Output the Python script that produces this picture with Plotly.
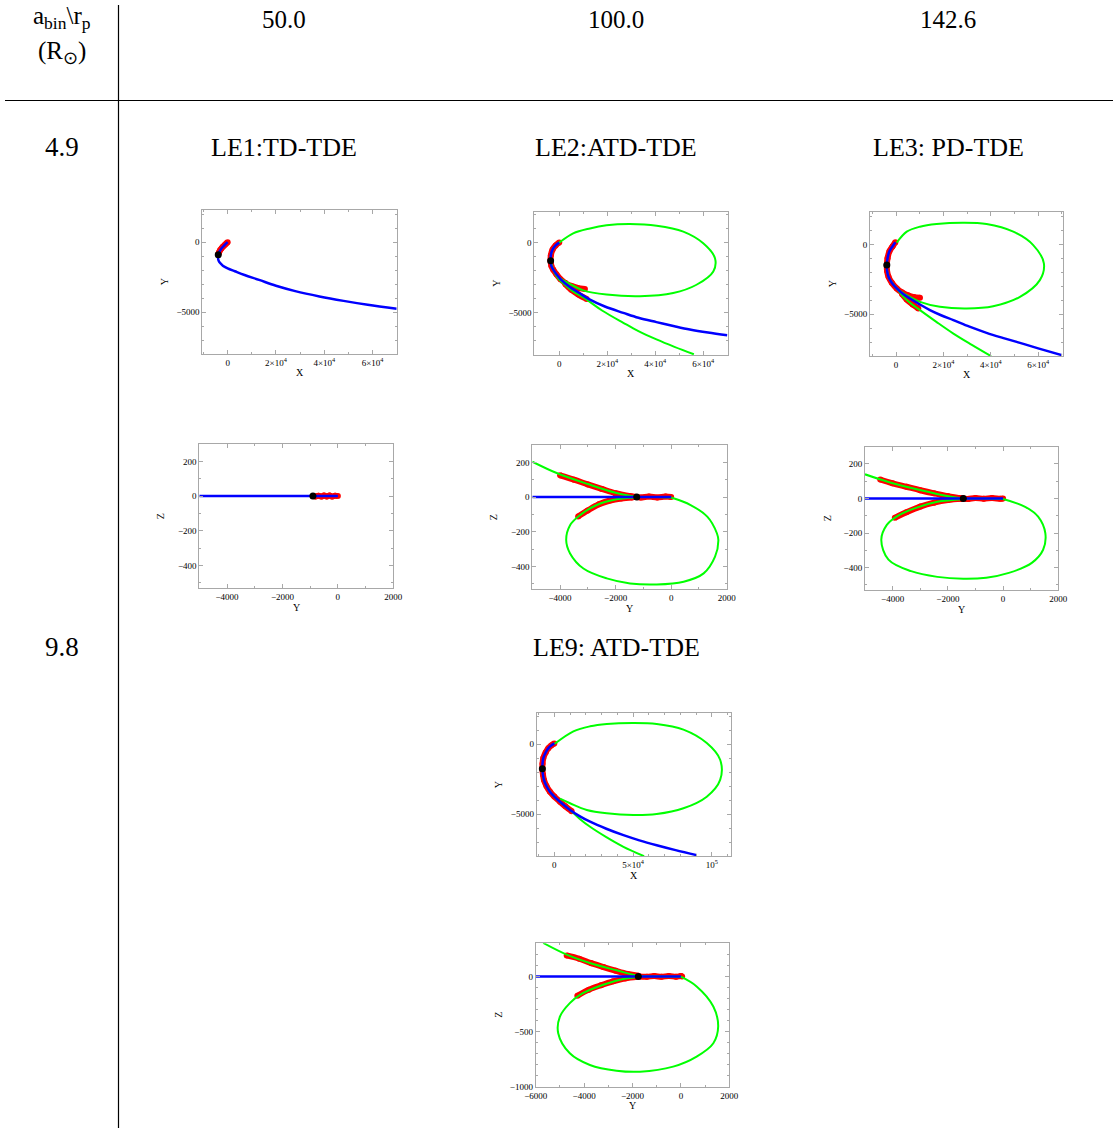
import plotly.graph_objects as go

# ---------------- data ----------------
# LE1 (a_bin=4.9, r_p=50.0)
le1_xy_blue_x = [0, -1200, -2500, -3400, -3900, -4000, -3800, -3200, -2000, 0, 3000, 7000, 13000, 20000, 28000, 38000, 48000, 58000, 70000]
le1_xy_blue_y = [0, -200, -430, -680, -900, -1100, -1300, -1480, -1680, -1870, -2080, -2350, -2700, -3120, -3500, -3880, -4200, -4480, -4760]
le1_xy_red_x = [0, -600, -1200, -1900, -2500, -3100, -3500, -3800, -3900]
le1_xy_red_y = [0, -90, -200, -310, -430, -570, -700, -820, -900]
le1_xy_dot = (-3900, -900)
le1_yz_blue_y = [-5000, 0]
le1_yz_blue_z = [0, 0]
le1_yz_red_y = [-900, -800, -700, -600, -500, -400, -300, -200, -100, 0]
le1_yz_red_z = [0, -2, 2, -3, 3, -2, 3, -3, 2, 0]
le1_yz_dot = (-900, 0)

# LE2 (a_bin=4.9, r_p=100.0)
le2_xy_blue_x = [0, -1500, -2800, -3500, -3600, -3300, -2500, -1200, 500, 4400, 8000, 12800, 19000, 26700, 33000, 40500, 48000, 54400, 62000, 70000]
le2_xy_blue_y = [0, -200, -500, -900, -1300, -1650, -1930, -2250, -2600, -3160, -3550, -4060, -4550, -5000, -5350, -5660, -5950, -6180, -6400, -6600]
le2_xy_red_main_x = [0, -1500, -2800, -3500, -3600, -3300, -2500, -1200, 500, 2500]
le2_xy_red_main_y = [0, -200, -500, -900, -1300, -1650, -1930, -2250, -2600, -2880]
le2_xy_red_up_x = [2500, 5000, 7500, 10700]
le2_xy_red_up_y = [-2880, -3080, -3220, -3300]
le2_xy_red_lo_x = [2500, 5000, 8000, 11400]
le2_xy_red_lo_y = [-2950, -3350, -3700, -4010]
le2_xy_ell_x = [0, 5800, 12800, 19700, 29400, 40600, 51700, 60000, 64900, 64200, 57200, 47500, 33600, 19700, 10000, 4000, 0, -2500, -3600, -3000, -1500, 0]
le2_xy_ell_y = [0, 660, 1010, 1230, 1320, 1200, 780, -50, -1110, -2050, -3000, -3590, -3820, -3700, -3400, -2900, -2500, -1930, -1300, -600, -200, 0]
le2_xy_esc_x = [-3600, -2500, -500, 3000, 5800, 11400, 18000, 26700, 33000, 40500, 48000, 56100]
le2_xy_esc_y = [-1300, -1930, -2550, -3100, -3470, -4060, -4850, -5710, -6300, -6890, -7420, -7950]
le2_xy_dot = (-3600, -1300)
le2_yz_blue_y = [-5000, 0]
le2_yz_blue_z = [0, 0]
le2_yz_esc_y = [-5000, -4100, -3000, -2000, -1250, -500, 0]
le2_yz_esc_z = [204, 137, 75, 25, 2, 0, -3]
le2_yz_ell_y = [0, 700, 1300, 1650, 1700, 1580, 1170, 450, -520, -1480, -2320, -3160, -3640, -3780, -3640, -3280, -2680, -1960, -1240]
le2_yz_ell_z = [-3, -46, -113, -210, -250, -344, -440, -488, -504, -498, -469, -412, -325, -248, -162, -104, -46, -13, -2]
le2_yz_red_main_y = [-2000, -1700, -1400, -1100, -800, -500, -200, 0]
le2_yz_red_main_z = [0, -2, 2, -3, 3, -2, 3, 0]
le2_yz_red_up_y = [-4000, -3500, -3000, -2500, -2000, -1500, -1250]
le2_yz_red_up_z = [125, 100, 73, 47, 22, 6, 0]
le2_yz_red_lo_y = [-3350, -3000, -2600, -2200, -1800, -1400]
le2_yz_red_lo_z = [-112, -77, -42, -20, -8, -2]
le2_yz_dot = (-1240, 0)

# LE3 (a_bin=4.9, r_p=142.6)
le3_xy_blue_x = [-300, -1500, -2800, -3600, -3900, -3800, -3200, -1800, 300, 3000, 5900, 10000, 14300, 19000, 24200, 31000, 38200, 45000, 52300, 60000, 70000]
le3_xy_blue_y = [150, -150, -500, -1000, -1480, -1900, -2320, -2750, -3160, -3550, -3880, -4300, -4710, -5080, -5430, -5900, -6340, -6700, -7060, -7450, -7940]
le3_xy_red_main_x = [-300, -1500, -2800, -3600, -3900, -3800, -3200, -1800, 300, 2500]
le3_xy_red_main_y = [150, -150, -500, -1000, -1480, -1900, -2320, -2750, -3160, -3450]
le3_xy_red_up_x = [2500, 5000, 7500, 10100]
le3_xy_red_up_y = [-3450, -3650, -3780, -3830]
le3_xy_red_lo_x = [2500, 4500, 7000, 9400]
le3_xy_red_lo_y = [-3550, -3950, -4300, -4590]
le3_xy_ell_x = [300, 4500, 10100, 17100, 28400, 38200, 49500, 57900, 62400, 60700, 52300, 41000, 29800, 18500, 10100, 4500, 300]
le3_xy_ell_y = [120, 910, 1270, 1460, 1555, 1460, 910, -50, -1360, -2560, -3760, -4430, -4590, -4470, -4120, -3640, -3160]
le3_xy_esc_x = [-3900, -3200, 300, 3100, 6000, 10100, 17000, 24200, 32000, 40100]
le3_xy_esc_y = [-1480, -2320, -3160, -3760, -4200, -4710, -5550, -6390, -7200, -8010]
le3_xy_dot = (-3900, -1480)
le3_yz_blue_y = [-5000, 0]
le3_yz_blue_z = [0, 0]
le3_yz_esc_y = [-5000, -4150, -2970, -2030, -1440, -700, 0]
le3_yz_esc_z = [140, 96, 48, 15, 0, 0, -3]
le3_yz_ell_y = [0, 800, 1270, 1530, 1450, 1040, 210, -610, -1440, -2380, -3330, -4150, -4410, -4210, -3860, -3210, -2380, -1440]
le3_yz_ell_z = [-3, -48, -105, -201, -297, -373, -431, -459, -465, -454, -421, -354, -239, -153, -105, -57, -19, -4]
le3_yz_red_main_y = [-2200, -1900, -1600, -1300, -1000, -700, -400, -100, 0]
le3_yz_red_main_z = [0, -2, 2, -3, 3, -2, 3, -2, 0]
le3_yz_red_up_y = [-4450, -4000, -3500, -3000, -2500, -2000, -1440]
le3_yz_red_up_z = [110, 88, 68, 48, 30, 14, 0]
le3_yz_red_lo_y = [-3920, -3500, -3000, -2500, -2000, -1500]
le3_yz_red_lo_z = [-112, -80, -47, -24, -9, -2]
le3_yz_dot = (-1440, 0)

# LE9 (a_bin=9.8, r_p=100.0)
le9_xy_blue_x = [0, -2000, -3800, -5500, -7000, -7500, -7600, -7200, -6600, -5000, -2800, 0, 3600, 10000, 16000, 22700, 33000, 43900, 54000, 65000, 77000, 90500]
le9_xy_blue_y = [50, -100, -290, -600, -1000, -1400, -1770, -2200, -2560, -3000, -3400, -3750, -4120, -4710, -5150, -5550, -6050, -6510, -6880, -7230, -7580, -7940]
le9_xy_red_x = [0, -2000, -3800, -5500, -7000, -7500, -7600, -7200, -6600, -5000, -2800, 0, 3600, 7000, 11000]
le9_xy_red_y = [50, -100, -290, -600, -1000, -1400, -1770, -2200, -2560, -3000, -3400, -3750, -4120, -4450, -4800]
le9_xy_ell_x = [0, 12100, 22700, 33300, 50200, 65000, 82000, 96800, 105300, 105300, 96800, 82000, 65000, 50200, 33300, 20600, 10000, 3600]
le9_xy_ell_y = [0, 910, 1270, 1435, 1507, 1435, 1030, 70, -1120, -2560, -3760, -4590, -5000, -5070, -4950, -4710, -4230, -3900]
le9_xy_esc_x = [-7600, -6600, -2800, 3600, 10000, 16000, 22700, 33000, 43900, 57000]
le9_xy_esc_y = [-1770, -2560, -3400, -4120, -4710, -5330, -5910, -6650, -7340, -8010]
le9_xy_dot = (-7600, -1770)
le9_yz_blue_y = [-6000, 0]
le9_yz_blue_z = [0, 0]
le9_yz_esc_y = [-5690, -4720, -3760, -2660, -1760, -800, 0]
le9_yz_esc_z = [303, 197, 121, 55, 6, 0, -3]
le9_yz_ell_y = [0, 650, 1340, 1540, 1340, 650, -320, -1690, -2660, -3760, -4590, -5070, -5000, -4590, -4170, -3210, -2380, -1760]
le9_yz_ell_z = [-3, -91, -273, -455, -606, -727, -818, -864, -855, -803, -697, -515, -364, -242, -167, -76, -24, -6]
le9_yz_red_main_y = [-1760, -1400, -1100, -800, -500, -200, 0, 50]
le9_yz_red_main_z = [0, -3, 3, -4, 4, -3, 3, 0]
le9_yz_red_up_y = [-4720, -4200, -3700, -3200, -2700, -2200, -1760]
le9_yz_red_up_z = [190, 160, 120, 85, 52, 22, 5]
le9_yz_red_lo_y = [-4280, -3800, -3300, -2800, -2300, -1800]
le9_yz_red_lo_z = [-176, -120, -80, -45, -18, -4]
le9_yz_dot = (-1760, 0)

# table text
col_headers = ["50.0", "100.0", "142.6"]
row_headers = ["4.9", "9.8"]
panel_titles = ["LE1:TD-TDE", "LE2:ATD-TDE", "LE3: PD-TDE", "LE9: ATD-TDE"]

# tick labels
xy_x_vals = [0, 20000, 40000, 60000]
xy_x_text = ["0", "2×10<sup>4</sup>", "4×10<sup>4</sup>", "6×10<sup>4</sup>"]
le9_x_vals = [0, 50000, 100000]
le9_x_text = ["0", "5×10<sup>4</sup>", "10<sup>5</sup>"]
xy_y_vals = [0, -5000]
xy_y_text = ["0", "−5000"]
yz_x_vals = [-4000, -2000, 0, 2000]
yz_x_text = ["−4000", "−2000", "0", "2000"]
yz_y_vals = [200, 0, -200, -400]
yz_y_text = ["200", "0", "−200", "−400"]
le9yz_x_vals = [-6000, -4000, -2000, 0, 2000]
le9yz_x_text = ["−6000", "−4000", "−2000", "0", "2000"]
le9yz_y_vals = [0, -500, -1000]
le9yz_y_text = ["0", "−500", "−1000"]

# ---------------- figure ----------------
W, H = 1116, 1128
SERIF = "Liberation Serif"
RED, GREEN, BLUE = "#ff0000", "#00ff00", "#0000ff"
FRAME = "#a8a8a8"

fig = go.Figure()

def fx(px):
    return px / W

def fy(py):
    return 1 - py / H

panels = [
    dict(box=(202.3, 396.7, 210, 354), xr=[-10500, 70000], yr=[-8000, 2300],
         xt=(xy_x_vals, xy_x_text), yt=(xy_y_vals, xy_y_text), mx=10000, my=1000, lab=("X", "Y"),
         red=[(le1_xy_red_x, le1_xy_red_y)], green=[], blue=(le1_xy_blue_x, le1_xy_blue_y), dot=le1_xy_dot),
    dict(box=(199.3, 393.3, 444, 588), xr=[-5000, 2000], yr=[-530, 300],
         xt=(yz_x_vals, yz_x_text), yt=(yz_y_vals, yz_y_text), mx=1000, my=100, lab=("Y", "Z"),
         red=[(le1_yz_red_y, le1_yz_red_z)], green=[], blue=(le1_yz_blue_y, le1_yz_blue_z), dot=le1_yz_dot),
    dict(box=(534.3, 727.7, 211.7, 355), xr=[-10400, 70200], yr=[-8000, 2200],
         xt=(xy_x_vals, xy_x_text), yt=(xy_y_vals, xy_y_text), mx=10000, my=1000, lab=("X", "Y"),
         red=[(le2_xy_red_main_x, le2_xy_red_main_y), (le2_xy_red_up_x, le2_xy_red_up_y), (le2_xy_red_lo_x, le2_xy_red_lo_y)],
         green=[(le2_xy_ell_x, le2_xy_ell_y), (le2_xy_esc_x, le2_xy_esc_y)],
         blue=(le2_xy_blue_x, le2_xy_blue_y), dot=le2_xy_dot),
    dict(box=(532.3, 726.7, 445, 589), xr=[-5000, 2000], yr=[-530, 300],
         xt=(yz_x_vals, yz_x_text), yt=(yz_y_vals, yz_y_text), mx=1000, my=100, lab=("Y", "Z"),
         red=[(le2_yz_red_main_y, le2_yz_red_main_z), (le2_yz_red_up_y, le2_yz_red_up_z), (le2_yz_red_lo_y, le2_yz_red_lo_z)],
         green=[(le2_yz_ell_y, le2_yz_ell_z), (le2_yz_esc_y, le2_yz_esc_z)],
         blue=(le2_yz_blue_y, le2_yz_blue_z), dot=le2_yz_dot),
    dict(box=(870, 1063.3, 212.3, 356), xr=[-11000, 70600], yr=[-8000, 2300],
         xt=(xy_x_vals, xy_x_text), yt=(xy_y_vals, xy_y_text), mx=10000, my=1000, lab=("X", "Y"),
         red=[(le3_xy_red_main_x, le3_xy_red_main_y), (le3_xy_red_up_x, le3_xy_red_up_y), (le3_xy_red_lo_x, le3_xy_red_lo_y)],
         green=[(le3_xy_ell_x, le3_xy_ell_y), (le3_xy_esc_x, le3_xy_esc_y)],
         blue=(le3_xy_blue_x, le3_xy_blue_y), dot=le3_xy_dot),
    dict(box=(865, 1058.3, 446.7, 590), xr=[-5000, 2000], yr=[-530, 300],
         xt=(yz_x_vals, yz_x_text), yt=(yz_y_vals, yz_y_text), mx=1000, my=100, lab=("Y", "Z"),
         red=[(le3_yz_red_main_y, le3_yz_red_main_z), (le3_yz_red_up_y, le3_yz_red_up_z), (le3_yz_red_lo_y, le3_yz_red_lo_z)],
         green=[(le3_yz_ell_y, le3_yz_ell_z), (le3_yz_esc_y, le3_yz_esc_z)],
         blue=(le3_yz_blue_y, le3_yz_blue_z), dot=le3_yz_dot),
    dict(box=(536.7, 730.7, 713.3, 856), xr=[-11200, 112000], yr=[-8000, 2200],
         xt=(le9_x_vals, le9_x_text), yt=(xy_y_vals, xy_y_text), mx=10000, my=1000, lab=("X", "Y"),
         red=[(le9_xy_red_x, le9_xy_red_y)],
         green=[(le9_xy_ell_x, le9_xy_ell_y), (le9_xy_esc_x, le9_xy_esc_y)],
         blue=(le9_xy_blue_x, le9_xy_blue_y), dot=le9_xy_dot),
    dict(box=(535.7, 729.3, 943.3, 1086.7), xr=[-6000, 2000], yr=[-1000, 300],
         xt=(le9yz_x_vals, le9yz_x_text), yt=(le9yz_y_vals, le9yz_y_text), mx=1000, my=100, lab=("Y", "Z"),
         red=[(le9_yz_red_main_y, le9_yz_red_main_z), (le9_yz_red_up_y, le9_yz_red_up_z), (le9_yz_red_lo_y, le9_yz_red_lo_z)],
         green=[(le9_yz_ell_y, le9_yz_ell_z), (le9_yz_esc_y, le9_yz_esc_z)],
         blue=(le9_yz_blue_y, le9_yz_blue_z), dot=le9_yz_dot),
]

layout_axes = {}
annotations = []
for i, p in enumerate(panels, start=1):
    xa = "x" if i == 1 else f"x{i}"
    ya = "y" if i == 1 else f"y{i}"
    for (rx, ry) in p["red"]:
        fig.add_trace(go.Scatter(x=rx, y=ry, mode="lines+markers", xaxis=xa, yaxis=ya,
                                 line=dict(color=RED, width=6, shape="spline", smoothing=1.0),
                                 marker=dict(color=RED, size=6),
                                 showlegend=False, hoverinfo="skip"))
    for (gx, gy) in p["green"]:
        fig.add_trace(go.Scatter(x=gx, y=gy, mode="lines", xaxis=xa, yaxis=ya,
                                 line=dict(color=GREEN, width=2, shape="spline", smoothing=1.0),
                                 showlegend=False, hoverinfo="skip"))
    bx, by = p["blue"]
    fig.add_trace(go.Scatter(x=bx, y=by, mode="lines", xaxis=xa, yaxis=ya,
                             line=dict(color=BLUE, width=2.5, shape="spline", smoothing=1.0),
                             showlegend=False, hoverinfo="skip"))
    fig.add_trace(go.Scatter(x=[p["dot"][0]], y=[p["dot"][1]], mode="markers", xaxis=xa, yaxis=ya,
                             marker=dict(color="black", size=7), showlegend=False, hoverinfo="skip"))

    l, r, t, b = p["box"]
    common = dict(showline=True, linecolor=FRAME, linewidth=1, mirror="ticks", ticks="inside",
                  ticklen=4, tickwidth=1, tickcolor=FRAME, showgrid=False, zeroline=False,
                  tickfont=dict(family=SERIF, size=9, color="black"), automargin=False, fixedrange=True)
    layout_axes["xaxis" if i == 1 else f"xaxis{i}"] = dict(
        common, domain=[fx(l), fx(r)], range=p["xr"], anchor=ya,
        tickmode="array", tickvals=p["xt"][0], ticktext=p["xt"][1],
        minor=dict(ticks="inside", ticklen=2, tickcolor=FRAME, dtick=p["mx"], tick0=0, showgrid=False))
    layout_axes["yaxis" if i == 1 else f"yaxis{i}"] = dict(
        common, domain=[fy(b), fy(t)], range=p["yr"], anchor=xa,
        tickmode="array", tickvals=p["yt"][0], ticktext=p["yt"][1],
        minor=dict(ticks="inside", ticklen=2, tickcolor=FRAME, dtick=p["my"], tick0=0, showgrid=False))
    annotations.append(dict(x=fx((l + r) / 2), y=fy(b + 19), xref="paper", yref="paper",
                            text=p["lab"][0], showarrow=False, xanchor="center", yanchor="middle",
                            font=dict(family=SERIF, size=10, color="black")))
    annotations.append(dict(x=fx(l - 38), y=fy((t + b) / 2), xref="paper", yref="paper",
                            text=p["lab"][1], showarrow=False, xanchor="center", yanchor="middle",
                            textangle=-90, font=dict(family=SERIF, size=10, color="black")))

# table header / row texts
HEAD = dict(family=SERIF, size=25, color="black")
BIG = dict(family=SERIF, size=27, color="black")
annotations.append(dict(x=fx(62), y=fy(18), xref="paper", yref="paper", showarrow=False,
                        text="a<sub>bin</sub>\\r<sub>p</sub>", font=dict(family=SERIF, size=25, color="black"),
                        xanchor="center", yanchor="middle"))
annotations.append(dict(x=fx(62), y=fy(52), xref="paper", yref="paper", showarrow=False,
                        text="(R<sub>⊙</sub>)", font=dict(family=SERIF, size=25, color="black"),
                        xanchor="center", yanchor="middle"))
for txt, cx in zip(col_headers, [284, 616, 948]):
    annotations.append(dict(x=fx(cx), y=fy(20), xref="paper", yref="paper", showarrow=False,
                            text=txt, font=HEAD, xanchor="center", yanchor="middle"))
for txt, cy in zip(row_headers, [147, 647]):
    annotations.append(dict(x=fx(62), y=fy(cy), xref="paper", yref="paper", showarrow=False,
                            text=txt, font=BIG, xanchor="center", yanchor="middle"))
for txt, (cx, cy) in zip(panel_titles, [(284, 147), (616, 147), (948, 147), (616, 647)]):
    annotations.append(dict(x=fx(cx), y=fy(cy), xref="paper", yref="paper", showarrow=False,
                            text=txt, font=dict(family=SERIF, size=26, color="black"),
                            xanchor="center", yanchor="middle"))

shapes = [
    dict(type="line", xref="paper", yref="paper", x0=fx(118.5), x1=fx(118.5), y0=fy(5), y1=fy(1128),
         line=dict(color="black", width=1.2)),
    dict(type="line", xref="paper", yref="paper", x0=fx(5), x1=fx(1113), y0=fy(100.5), y1=fy(100.5),
         line=dict(color="black", width=1.2)),
]

fig.update_layout(width=W, height=H, margin=dict(l=0, r=0, t=0, b=0),
                  paper_bgcolor="white", plot_bgcolor="white",
                  annotations=annotations, shapes=shapes, **layout_axes)

fig.write_html("out.html", include_plotlyjs=True, config={"displayModeBar": False})
